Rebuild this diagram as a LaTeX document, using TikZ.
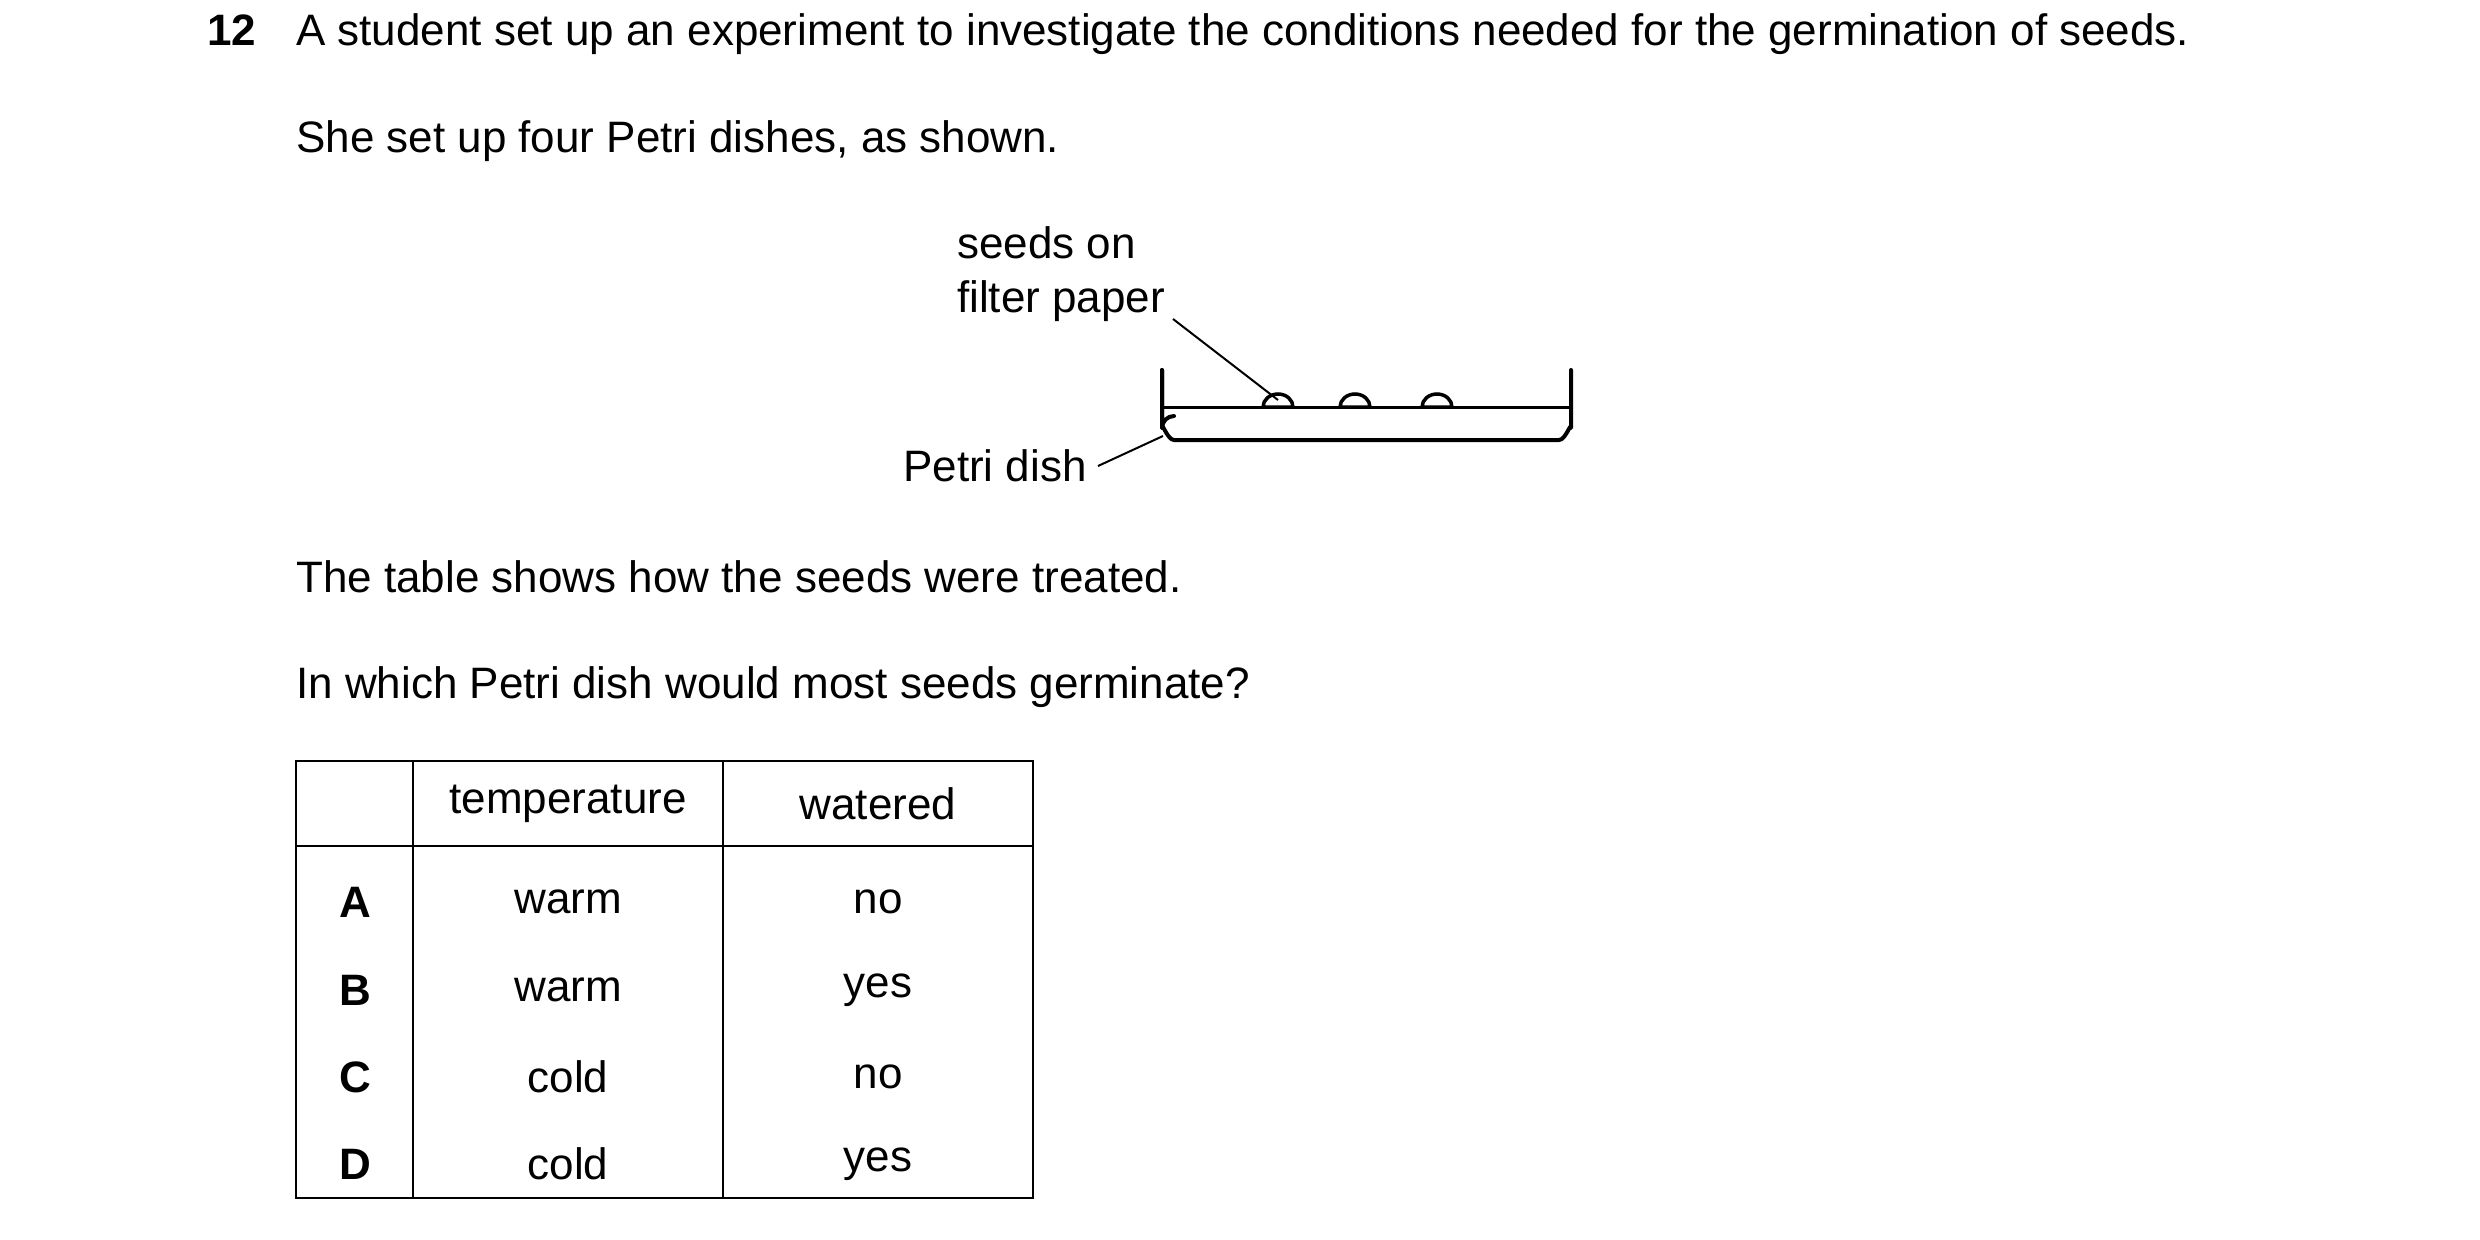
\documentclass[tikz,border=0pt]{standalone}
\usepackage{fontspec}
\setmainfont{Liberation Sans}
\begin{document}
\begin{tikzpicture}[x=1pt,y=-1pt,
  txt/.style={anchor=base west,inner sep=0pt,font=\fontsize{44}{52}\selectfont},
  cell/.style={anchor=center,inner sep=0pt,font=\fontsize{44}{52}\selectfont},
  dish/.style={line width=4pt,line cap=round,line join=round},
  lead/.style={line width=2pt}]
\useasboundingbox (0,0) rectangle (2480,1239);
\node[txt,font=\fontsize{44}{52}\selectfont\bfseries] (n12) at (207,46) {12};
\node[txt] (t1) at (296,46) {A student set up an experiment to investigate the conditions needed for the germination of seeds.};
\node[txt] (t2) at (296,152) {She set up four Petri dishes, as shown.};
\node[txt] (l1) at (957,258) {seeds on};
\node[txt] (l2) at (957,312) {filter paper};
\node[txt] (l3) at (903,481) {Petri dish};
\node[txt] (t3) at (296,592) {The table shows how the seeds were treated.};
\node[txt] (t4) at (296,698) {In which Petri dish would most seeds germinate?};
% dish
\draw[dish] (1162,370) -- (1162,428) arc[start angle=180,end angle=90,x radius=12,y radius=-12] ;
\draw[dish] (1162,370) -- (1162,428) to[out=90,in=180] (1174,440) -- (1559,440) to[out=0,in=90] (1571,428) -- (1571,370);
\draw[line width=3pt] (1162,407) -- (1571,407);
\foreach \i/\sx in {s1/1278,s2/1355,s3/1437}{
  \coordinate (\i) at (\sx,400);
  \draw[line width=3.5pt] (\sx-15,407) arc[start angle=180,end angle=0,x radius=15,y radius=-13] -- cycle;
}
\coordinate (a1) at (1173,319);
\coordinate (a2) at (1098,466);
\coordinate (d1) at (1163,436);
\draw[lead] (a1) -- (s1);
\draw[lead] (a2) -- (d1);
% table
\draw[line width=2pt] (296,761) rectangle (1033,1198);
\draw[line width=2pt] (413,761) -- (413,1198) (723,761) -- (723,1198) (296,846) -- (1033,846);
\node[cell] (h1) at (568,804) {temperature};
\node[cell] (h2) at (878,804) {watered};
\foreach \r/\y/\t/\w in {A/902/warm/no,B/990/warm/yes,C/1077/cold/no,D/1164/cold/yes}{
  \node[cell,font=\fontsize{44}{52}\selectfont\bfseries] (r\r) at (355,\y) {\r};
  \node[cell] (t\r) at (568,\y) {\t};
  \node[cell] (w\r) at (878,\y) {\w};
}
\end{tikzpicture}
\end{document}
